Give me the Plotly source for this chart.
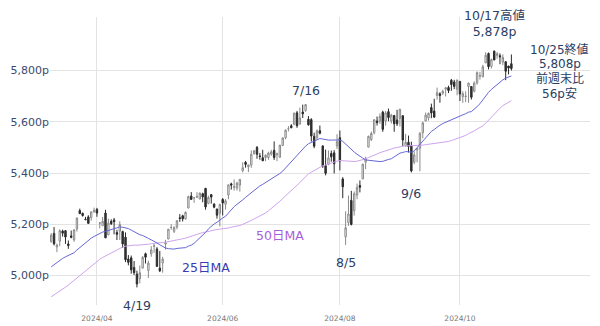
import pandas as pd
import plotly.graph_objects as go

# Closes before the visible window (used only for the moving averages)
prior_closes = [
    4774.75, 4781.58, 4783.35, 4769.83,
    4742.83, 4704.81, 4688.68, 4697.24, 4763.54, 4756.50, 4783.45, 4780.24, 4783.83, 4765.98,
    4739.21, 4780.94, 4839.81, 4850.43, 4864.60, 4868.55, 4894.16, 4890.97, 4927.93, 4924.97, 4845.65,
    4906.19, 4958.61, 4942.81, 4954.23, 4995.06, 4997.91, 5026.61, 5021.84, 4953.17, 5000.62,
    5029.73, 5005.57, 4975.51, 4981.80, 5087.03, 5088.80, 5069.53, 5078.18, 5069.76, 5096.27,
    5137.08, 5130.95, 5078.65, 5104.76,
]

# Visible daily candles, 2024-03-07 .. 2024-10-25
opens = [
    5132.38, 5164.46, 5111.96, 5134.30, 5173.49, 5175.14, 5123.31, 5154.77, 5139.09, 5181.69, 5253.43, 5242.48, 5219.52, 5228.85, 5226.31, 5248.03,
    5257.97, 5204.29, 5194.37, 5244.05, 5158.95, 5211.37, 5217.03, 5167.88, 5172.95, 5171.51, 5149.67, 5064.59, 5068.97, 5031.52, 5005.44, 4987.33, 5028.85, 5084.86, 5019.88, 5084.65, 5114.13, 5103.78,
    5029.03, 5049.32, 5122.78, 5142.42, 5187.20, 5172.68, 5189.03, 5225.49, 5233.08, 5221.10, 5263.26, 5310.07, 5303.10, 5305.35, 5298.69, 5319.28, 5340.26, 5281.45, 5315.91, 5278.73, 5259.77, 5243.21,
    5297.15, 5278.24, 5314.48, 5357.80, 5343.81, 5341.22, 5353.00, 5409.13, 5441.93, 5424.08, 5431.11, 5476.15, 5499.99, 5466.77, 5459.58, 5460.73, 5460.71, 5473.59, 5488.48,
    5471.08, 5461.84, 5507.44, 5537.91, 5572.75, 5584.24, 5591.26, 5635.21, 5590.76, 5638.16, 5644.09, 5610.07, 5608.56, 5543.37, 5537.99, 5565.30, 5505.84, 5428.70, 5433.67, 5476.55, 5478.73, 5505.59,
    5537.84, 5376.63, 5151.14, 5206.42, 5293.13, 5252.57, 5314.11, 5351.47, 5376.98, 5442.47, 5501.13, 5530.50, 5557.23, 5602.88, 5603.09, 5637.77, 5602.81, 5639.66, 5602.89, 5624.51, 5607.30, 5612.74,
    5623.89, 5506.68, 5520.08, 5507.33, 5442.07, 5490.51, 5496.42, 5557.48, 5603.34, 5615.21, 5655.51, 5641.68, 5702.63, 5709.14, 5711.90, 5727.30, 5733.65, 5762.22, 5755.36, 5726.52,
    5757.73, 5698.14, 5698.19, 5737.67, 5737.80, 5719.14, 5751.80, 5778.36, 5775.09, 5829.81, 5866.74, 5816.58, 5875.62, 5859.43, 5857.82, 5832.70, 5834.50, 5817.80, 5826.75,
]
highs = [
    5165.62, 5189.26, 5124.66, 5179.87, 5179.14, 5176.85, 5136.86, 5175.60, 5180.31, 5226.19, 5261.10, 5246.09, 5229.09, 5235.16, 5249.26, 5264.85,
    5263.95, 5208.34, 5228.75, 5256.59, 5222.18, 5219.57, 5224.81, 5178.43, 5211.78, 5175.03, 5168.43, 5079.84, 5077.96, 5056.66, 5019.02, 5038.84, 5076.12, 5089.48, 5057.75, 5114.62, 5123.49, 5110.83,
    5096.12, 5073.21, 5139.12, 5181.00, 5200.23, 5191.95, 5215.30, 5239.66, 5237.26, 5250.37, 5311.76, 5325.49, 5305.45, 5325.32, 5324.32, 5323.18, 5341.88, 5311.65, 5315.91, 5282.27, 5260.21, 5280.33,
    5302.11, 5298.80, 5354.16, 5362.35, 5375.08, 5365.79, 5375.95, 5441.93, 5447.25, 5432.39, 5488.50, 5490.38, 5505.53, 5478.31, 5490.66, 5472.88, 5483.14, 5490.81, 5523.64,
    5479.55, 5509.69, 5539.27, 5570.33, 5583.11, 5590.75, 5635.39, 5642.45, 5655.56, 5666.94, 5669.67, 5622.49, 5614.05, 5557.50, 5570.36, 5585.34, 5508.04, 5491.59, 5488.32, 5487.74, 5489.46, 5551.51,
    5566.16, 5383.89, 5250.89, 5312.34, 5330.64, 5328.03, 5358.76, 5371.20, 5436.50, 5463.22, 5546.23, 5561.98, 5608.30, 5620.51, 5632.68, 5643.22, 5641.82, 5651.62, 5631.18, 5627.03, 5646.95, 5651.37,
    5623.89, 5552.99, 5546.30, 5522.47, 5484.20, 5497.91, 5560.41, 5600.71, 5636.27, 5636.05, 5670.81, 5689.75, 5733.57, 5715.14, 5725.36, 5735.32, 5741.03, 5767.37, 5763.78, 5765.14,
    5757.73, 5719.14, 5718.78, 5752.42, 5739.34, 5757.60, 5796.80, 5795.03, 5822.13, 5871.41, 5870.36, 5846.52, 5878.46, 5872.17, 5866.92, 5863.04, 5834.85, 5817.80, 5862.82,
]
lows = [
    5128.21, 5117.50, 5091.14, 5114.48, 5151.88, 5123.30, 5104.35, 5145.47, 5131.59, 5171.55, 5240.66, 5229.87, 5216.09, 5203.42, 5213.92, 5245.82,
    5229.20, 5184.05, 5194.37, 5146.06, 5157.21, 5197.35, 5160.78, 5138.70, 5138.77, 5107.94, 5052.47, 5039.83, 5007.25, 5001.89, 4953.56, 4969.40, 5027.96, 5047.02, 4990.58, 5073.14, 5088.65, 5035.31,
    5013.45, 5011.05, 5101.22, 5142.42, 5178.96, 5165.86, 5180.41, 5209.68, 5211.16, 5217.98, 5263.26, 5296.19, 5283.59, 5302.40, 5297.87, 5286.01, 5256.93, 5278.39, 5280.89, 5262.70, 5222.10, 5191.68,
    5234.32, 5257.63, 5297.64, 5335.36, 5331.33, 5331.52, 5327.25, 5402.51, 5420.97, 5403.75, 5420.40, 5471.32, 5455.56, 5452.03, 5447.59, 5446.56, 5451.87, 5467.54, 5451.12,
    5446.53, 5458.43, 5507.42, 5531.63, 5562.51, 5574.57, 5586.44, 5576.53, 5590.44, 5614.75, 5639.02, 5584.81, 5522.81, 5497.04, 5529.04, 5550.90, 5419.98, 5390.95, 5430.70, 5444.44, 5398.42, 5493.75,
    5410.42, 5302.03, 5119.26, 5193.56, 5195.54, 5233.85, 5297.94, 5324.37, 5376.98, 5415.28, 5501.13, 5525.17, 5550.74, 5585.50, 5591.57, 5560.95, 5585.16, 5602.34, 5593.48, 5560.95, 5583.71, 5581.79,
    5504.63, 5503.66, 5480.31, 5402.62, 5434.49, 5441.72, 5406.96, 5535.50, 5601.65, 5604.53, 5614.05, 5615.08, 5686.42, 5674.49, 5704.94, 5698.99, 5712.06, 5721.01, 5727.34, 5703.53,
    5681.28, 5674.00, 5677.04, 5674.56, 5686.85, 5714.56, 5745.02, 5764.76, 5775.09, 5829.81, 5804.48, 5808.34, 5840.25, 5846.11, 5824.76, 5821.17, 5762.41, 5784.92, 5799.98,
]
closes = [
    5157.36, 5123.69, 5117.94, 5175.27, 5165.31, 5150.48, 5117.09, 5149.42, 5178.51, 5224.62, 5241.53, 5234.18, 5218.19, 5203.58, 5248.49, 5254.35,
    5243.77, 5205.81, 5211.49, 5147.21, 5204.34, 5202.39, 5209.91, 5160.64, 5199.06, 5123.41, 5061.82, 5051.41, 5022.21, 5011.12, 4967.23, 5010.60, 5070.55, 5071.63, 5048.42, 5099.96, 5116.17, 5035.69,
    5018.39, 5064.20, 5127.79, 5180.74, 5187.70, 5187.67, 5214.08, 5222.68, 5221.42, 5246.68, 5308.15, 5297.10, 5303.27, 5308.13, 5321.41, 5307.01, 5267.84, 5304.72, 5306.04, 5266.95, 5235.48, 5277.51,
    5283.40, 5291.34, 5354.03, 5352.96, 5346.99, 5360.79, 5375.32, 5421.03, 5433.74, 5431.60, 5473.23, 5487.03, 5473.17, 5464.62, 5447.87, 5469.30, 5477.90, 5482.87, 5460.48,
    5475.09, 5509.01, 5537.02, 5567.19, 5572.85, 5576.98, 5633.91, 5584.54, 5615.35, 5631.22, 5667.20, 5588.27, 5544.59, 5505.00, 5564.41, 5555.74, 5427.13, 5399.22, 5459.10, 5463.54, 5436.44, 5522.30,
    5446.68, 5346.56, 5186.33, 5240.03, 5199.50, 5319.31, 5344.16, 5344.39, 5434.43, 5455.21, 5543.22, 5554.25, 5608.25, 5597.12, 5620.85, 5570.64, 5634.61, 5616.84, 5625.80, 5592.18, 5591.96, 5648.40,
    5528.93, 5520.07, 5503.41, 5408.42, 5471.05, 5495.52, 5554.13, 5595.76, 5626.02, 5633.09, 5634.58, 5618.26, 5713.64, 5702.55, 5718.57, 5732.93, 5722.26, 5745.37, 5738.17, 5762.48,
    5708.75, 5709.54, 5699.94, 5751.07, 5695.94, 5751.13, 5792.04, 5780.05, 5815.03, 5859.85, 5815.26, 5842.47, 5841.47, 5864.67, 5853.98, 5851.20, 5797.42, 5809.86, 5808.12,
]

holidays = ["2024-01-01", "2024-01-15", "2024-02-19", "2024-03-29",
            "2024-05-27", "2024-06-19", "2024-07-04", "2024-09-02"]
y_ticks = [5000, 5200, 5400, 5600, 5800]
y_tick_text = ["5,000p", "5,200p", "5,400p", "5,600p", "5,800p"]
x_tick_dates = ["2024-04-01", "2024-06-03", "2024-08-01", "2024-10-01"]
x_tick_text = ["2024/04", "2024/06", "2024/08", "2024/10"]

all_dates = pd.bdate_range("2023-12-26", "2024-10-25", freq="C", holidays=holidays)
all_close = pd.Series(prior_closes + closes, index=all_dates)
ma25 = all_close.rolling(25).mean()
ma50 = all_close.rolling(50).mean()
n_prior = len(prior_closes)
dates = all_dates[n_prior:]
ma25 = ma25.iloc[n_prior:]
ma50 = ma50.iloc[n_prior:]

FONT = "DejaVu Sans, Noto Sans CJK JP, sans-serif"
TXT = "#2b3d63"

fig = go.Figure()
fig.add_trace(go.Scatter(x=dates, y=ma50.values, mode="lines",
                         line=dict(color="#cfa4ec", width=1), hoverinfo="skip"))
fig.add_trace(go.Scatter(x=dates, y=ma25.values, mode="lines",
                         line=dict(color="#6666d6", width=1), hoverinfo="skip"))
fig.add_trace(go.Candlestick(
    x=dates, open=opens, high=highs, low=lows, close=closes,
    increasing=dict(line=dict(color="#8a8a8a", width=1), fillcolor="#ffffff"),
    decreasing=dict(line=dict(color="#2a2a2a", width=1), fillcolor="#333333"),
    whiskerwidth=0,
))

def note(text, x, y, color=TXT, size=12.5, xref="x", yref="y", yshift=0):
    fig.add_annotation(text=text, x=x, y=y, xref=xref, yref=yref, showarrow=False,
                       xanchor="center", yanchor="middle", yshift=yshift,
                       font=dict(family=FONT, size=size, color=color))

note("4/19", "2024-04-19", 4900, yshift=-4)
note("25日MA", "2024-05-23", 5033, color="#3a3ab4")
note("50日MA", "2024-07-02", 5158, color="#a65fd8")
note("7/16", "2024-07-16", 5724)
note("8/5", "2024-08-05", 5049)
note("9/6", "2024-09-06", 5322)
note("10/17高値<br>5,878p", "2024-10-17", 5983)
note("10/25終値", 0.944, 5884, xref="paper", size=12)
note("5,808p", 0.944, 5826, xref="paper", size=12)
note("前週末比", 0.944, 5768, xref="paper", size=12)
note("56p安", 0.944, 5710, xref="paper", size=12)

fig.update_layout(
    width=600, height=326,
    margin=dict(l=50, r=10, t=17, b=21),
    paper_bgcolor="white", plot_bgcolor="white",
    showlegend=False,
    font=dict(family=FONT, color=TXT),
    xaxis=dict(
        type="date", automargin=False,
        range=["2024-03-06 14:00", "2024-12-03 12:00"],
        rangebreaks=[dict(bounds=["sat", "mon"]), dict(values=holidays)],
        rangeslider=dict(visible=False),
        tickmode="array", tickvals=x_tick_dates, ticktext=x_tick_text,
        tickfont=dict(size=7.5, color="#777777"),
        ticks="outside", ticklen=6, tickcolor="rgba(0,0,0,0)",
        showgrid=True, gridcolor="#e3e3e3", gridwidth=1,
        zeroline=False, showline=False,
    ),
    yaxis=dict(
        automargin=False,
        range=[4885, 6009],
        tickmode="array", tickvals=y_ticks, ticktext=y_tick_text,
        tickfont=dict(size=11, color="#3a4a70"),
        showgrid=True, gridcolor="#e3e3e3", gridwidth=1,
        zeroline=False, showline=False, ticks="",
    ),
)

fig.write_html("out.html")
